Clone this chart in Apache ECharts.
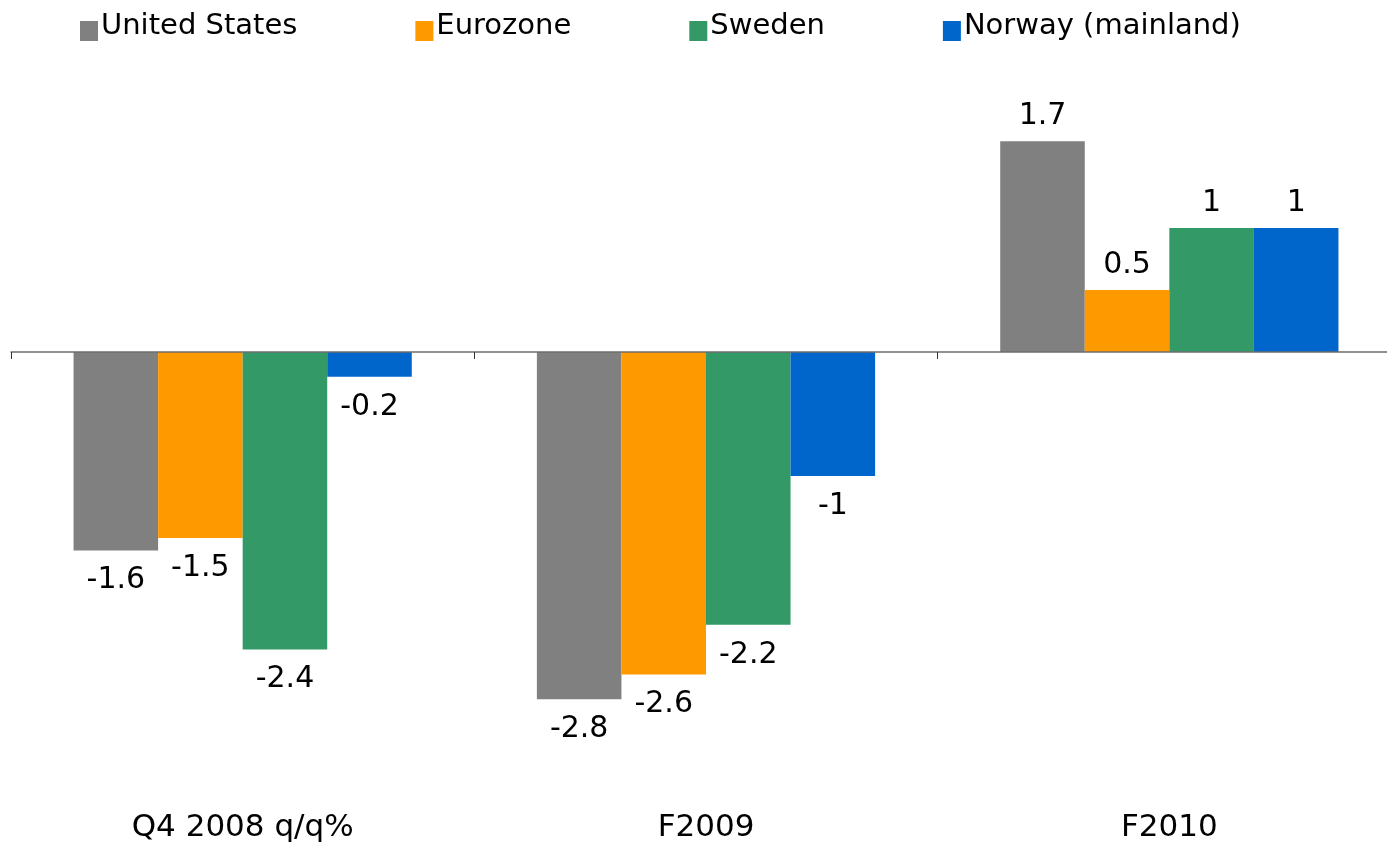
<!DOCTYPE html>
<html>
<head>
<meta charset="utf-8">
<script src="https://cdn.jsdelivr.net/npm/echarts@6/dist/echarts.min.js"></script>
<style>
  html, body { margin: 0; padding: 0; background: #fff; overflow: hidden; }
  #chart { width: 1401px; height: 843px; }
</style>
</head>
<body>
<div id="chart"></div>
<script>
// GDP growth outlook by region
const categories = ['Q4 2008 q/q%', 'F2009', 'F2010'];
const unitedStates = [-1.6, -2.8, 1.7];
const eurozone = [-1.5, -2.6, 0.5];
const sweden = [-2.4, -2.2, 1];
const norwayMainland = [-0.2, -1, 1];

const seriesNames = ['United States', 'Eurozone', 'Sweden', 'Norway (mainland)'];
const seriesColors = ['#808080', '#FF9900', '#339966', '#0066CC'];
const seriesValues = [unitedStates, eurozone, sweden, norwayMainland];

const FONT = 'DejaVu Sans';

// Square legend marker sitting in the lower part of its box
const LEGEND_ICON = 'path://M0,0 L0,0 M0,10 L18,10 L18,30 L0,30 Z';

function toBarData(values) {
  return values.map(v => ({
    value: v,
    label: v < 0 ? { position: 'bottom', distance: 15 } : { position: 'top', distance: 10 }
  }));
}

const chart = echarts.init(document.getElementById('chart'), null, { renderer: 'canvas' });

chart.setOption({
  animation: false,
  backgroundColor: '#ffffff',
  textStyle: { fontFamily: FONT },
  legend: {
    left: 75,
    top: 6,
    itemGap: 118,
    itemWidth: 18,
    itemHeight: 30,
    icon: LEGEND_ICON,
    itemStyle: { borderWidth: 0 },
    textStyle: { fontFamily: FONT, fontSize: 29, color: '#000', padding: [0, 0, 0, -2] },
    data: seriesNames
  },
  grid: { left: 11, right: 0, top: 104, bottom: 57, containLabel: false },
  xAxis: [
    {
      type: 'category',
      data: categories,
      axisLine: { onZero: true, lineStyle: { color: '#6e6e6e', width: 1.5 } },
      axisTick: { show: true, length: 7, lineStyle: { color: '#333' } },
      axisLabel: { show: false },
      z: 3
    },
    {
      type: 'category',
      data: categories,
      position: 'bottom',
      axisLine: { show: false, onZero: false },
      axisTick: { show: false },
      axisLabel: { show: true, margin: 26, fontFamily: FONT, fontSize: 31, color: '#000' }
    }
  ],
  yAxis: {
    type: 'value',
    min: -3.5,
    max: 2,
    show: false,
    splitLine: { show: false }
  },
  series: seriesNames.map((name, i) => ({
    name: name,
    type: 'bar',
    xAxisIndex: 0,
    barGap: '0%',
    barCategoryGap: '27%',
    itemStyle: { color: seriesColors[i] },
    label: {
      show: true,
      fontFamily: FONT,
      fontSize: 30,
      color: '#000',
      formatter: p => String(p.value)
    },
    data: toBarData(seriesValues[i])
  }))
});
</script>
</body>
</html>
